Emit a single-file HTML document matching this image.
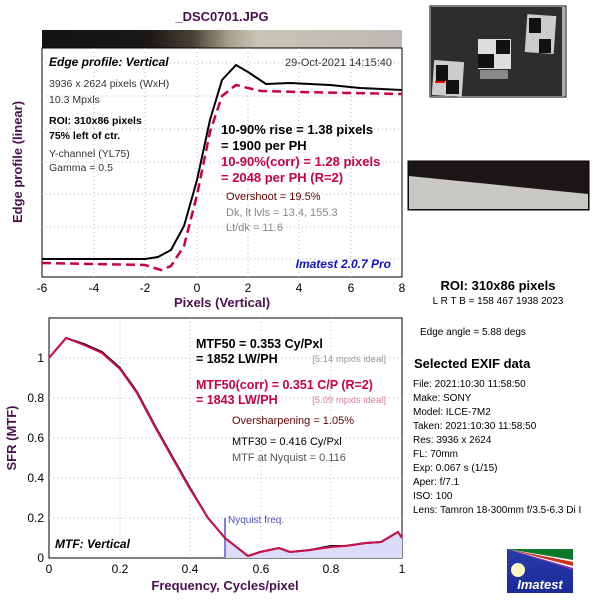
<!DOCTYPE html>
<html><head><meta charset="utf-8"><style>
html,body{margin:0;padding:0;background:#fff}
svg{display:block;font-family:"Liberation Sans",sans-serif}
</style></head><body>
<svg width="600" height="600" viewBox="0 0 600 600" xmlns="http://www.w3.org/2000/svg">
<defs>
<linearGradient id="g" x1="0" x2="1">
<stop offset="0" stop-color="#151312"/><stop offset="0.3" stop-color="#1a1816"/>
<stop offset="0.42" stop-color="#4a4236"/><stop offset="0.52" stop-color="#a8a08c"/>
<stop offset="0.6" stop-color="#c8c4b6"/><stop offset="1" stop-color="#bcbab4"/>
</linearGradient>
<linearGradient id="lb" x1="0" x2="0" y1="0" y2="1">
<stop offset="0" stop-color="#2a3aa8"/><stop offset="1" stop-color="#1a2a98"/>
</linearGradient>
</defs>
<text x="222" y="21" font-size="13" font-weight="bold" fill="#4a1050" text-anchor="middle">_DSC0701.JPG</text>
<rect x="42" y="30" width="360" height="18" fill="url(#g)"/>
<!-- top plot -->
<rect x="42" y="48" width="360" height="229" fill="#fff" stroke="#000"/>
<g stroke="#bbb" stroke-dasharray="1,3">
<line x1="94" y1="48" x2="94" y2="277"/><line x1="145" y1="48" x2="145" y2="277"/><line x1="197" y1="48" x2="197" y2="277"/><line x1="248" y1="48" x2="248" y2="277"/><line x1="299" y1="48" x2="299" y2="277"/><line x1="351" y1="48" x2="351" y2="277"/>
<line x1="42" y1="63" x2="402" y2="63"/><line x1="42" y1="96" x2="402" y2="96"/><line x1="42" y1="129" x2="402" y2="129"/><line x1="42" y1="162" x2="402" y2="162"/><line x1="42" y1="194" x2="402" y2="194"/><line x1="42" y1="227" x2="402" y2="227"/><line x1="42" y1="259" x2="402" y2="259"/>
</g>
<polyline fill="none" stroke="#c8004a" stroke-width="2.5" stroke-dasharray="9,5" points="42,263 145,265 161,270 171,266 184,246 197,195 210,132 222,96 236,85 248,88 261,91 299,92 402,94"/>
<polyline fill="none" stroke="#000" stroke-width="2" points="42,259 145,259 158,257 171,250 184,226 197,180 210,120 222,80 236,65 248,72 266,84 290,83 330,85 360,88 402,90"/>
<g font-size="12" text-anchor="middle">
<text x="42" y="292">-6</text><text x="94" y="292">-4</text><text x="145" y="292">-2</text><text x="197" y="292">0</text><text x="248" y="292">2</text><text x="299" y="292">4</text><text x="351" y="292">6</text><text x="402" y="292">8</text>
</g>
<text x="222" y="307" font-size="13" font-weight="bold" fill="#4a1050" text-anchor="middle">Pixels (Vertical)</text>
<text transform="translate(22,162) rotate(-90)" font-size="13" font-weight="bold" fill="#4a1050" text-anchor="middle">Edge profile (linear)</text>
<text x="49" y="66" font-size="12" font-weight="bold" font-style="italic">Edge profile: Vertical</text>
<text x="392" y="66" font-size="11" fill="#333" text-anchor="end">29-Oct-2021 14:15:40</text>
<g font-size="10.5" fill="#333">
<text x="49" y="87">3936 x 2624 pixels (WxH)</text><text x="49" y="103">10.3 Mpxls</text>
<text x="49" y="124" font-weight="bold" fill="#000">ROI: 310x86 pixels</text>
<text x="49" y="139" font-weight="bold" fill="#000">75% left of ctr.</text>
<text x="49" y="157">Y-channel  (YL75)</text><text x="49" y="171">Gamma = 0.5</text>
</g>
<g font-size="13" font-weight="bold">
<text x="221" y="134">10-90% rise = 1.38 pixels</text><text x="221" y="150">= 1900 per PH</text>
<text x="221" y="166" fill="#c8004a">10-90%(corr) = 1.28 pixels</text><text x="221" y="182" fill="#c8004a">= 2048 per PH  (R=2)</text>
</g>
<text x="226" y="200" font-size="11" fill="#600">Overshoot = 19.5%</text>
<text x="226" y="216" font-size="11" fill="#888">Dk, lt lvls = 13.4, 155.3</text>
<text x="226" y="231" font-size="11" fill="#888">Lt/dk = 11.6</text>
<text x="391" y="268" font-size="12" font-weight="bold" font-style="italic" fill="#1010d0" text-anchor="end">Imatest 2.0.7 Pro</text>
<!-- bottom plot -->
<rect x="49" y="318" width="353" height="240" fill="#fff" stroke="#000"/>
<g stroke="#bbb" stroke-dasharray="1,3">
<line x1="120" y1="318" x2="120" y2="558"/><line x1="190" y1="318" x2="190" y2="558"/><line x1="261" y1="318" x2="261" y2="558"/><line x1="331" y1="318" x2="331" y2="558"/>
<line x1="49" y1="358" x2="402" y2="358"/><line x1="49" y1="398" x2="402" y2="398"/><line x1="49" y1="438" x2="402" y2="438"/><line x1="49" y1="478" x2="402" y2="478"/><line x1="49" y1="518" x2="402" y2="518"/>
</g>
<polygon fill="#dcdcf8" points="225,538 248,556 260,552 279,548 290,552 310,550 331,546 345,546 366,543 381,542 398,532 402,538 402,558 225,558"/>
<line x1="225" y1="518" x2="225" y2="558" stroke="#8080e0" stroke-width="2"/>
<text x="228" y="523" font-size="10" fill="#5050c0">Nyquist freq.</text>
<polyline fill="none" stroke="#000" stroke-width="2" points="49,358 66,338 84,344 102,352 120,368 137,392 155,426 173,458 190,488 208,518 225,538 248,556 260,552 279,548 290,552 310,550 331,546 345,546 366,543 381,542 398,532 402,538"/>
<polyline fill="none" stroke="#d01050" stroke-width="2" points="49,358 66,338 84,345 102,353 120,369 137,393 155,427 173,459 190,489 208,518 225,538 248,556 260,552 279,548 290,552 310,550 331,547 345,546 366,543 381,542 398,532 402,538"/>
<g font-size="12" text-anchor="middle">
<text x="49" y="573">0</text><text x="120" y="573">0.2</text><text x="190" y="573">0.4</text><text x="261" y="573">0.6</text><text x="331" y="573">0.8</text><text x="402" y="573">1</text>
</g>
<g font-size="12" text-anchor="end">
<text x="44" y="562">0</text><text x="44" y="522">0.2</text><text x="44" y="482">0.4</text><text x="44" y="442">0.6</text><text x="44" y="402">0.8</text><text x="44" y="362">1</text>
</g>
<text x="225" y="590" font-size="13" font-weight="bold" fill="#4a1050" text-anchor="middle">Frequency, Cycles/pixel</text>
<text transform="translate(16,438) rotate(-90)" font-size="13" font-weight="bold" fill="#4a1050" text-anchor="middle">SFR (MTF)</text>
<text x="55" y="548" font-size="12" font-weight="bold" font-style="italic">MTF: Vertical</text>
<g font-size="12.5" font-weight="bold">
<text x="196" y="348">MTF50 = 0.353 Cy/Pxl</text><text x="196" y="363">= 1852 LW/PH</text>
<text x="196" y="389" fill="#c8004a">MTF50(corr) = 0.351 C/P  (R=2)</text><text x="196" y="404" fill="#c8004a">= 1843 LW/PH</text>
</g>
<text x="386" y="362" font-size="9.5" fill="#999" text-anchor="end">[5.14 mpxls ideal]</text>
<text x="386" y="403" font-size="9.5" fill="#e08098" text-anchor="end">[5.09 mpxls ideal]</text>
<text x="232" y="424" font-size="11" fill="#600">Oversharpening = 1.05%</text>
<text x="232" y="445" font-size="11">MTF30 = 0.416 Cy/Pxl</text>
<text x="232" y="461" font-size="11" fill="#555">MTF at Nyquist = 0.116</text>
<!-- right side thumbnail -->
<rect x="430" y="6" width="136" height="91" fill="#fff" stroke="#000"/>
<rect x="431" y="7" width="134" height="89" fill="#2e2c2c"/>
<rect x="562" y="7" width="3" height="89" fill="#aaa"/>
<rect x="526" y="15" width="29" height="38" fill="#ccc" transform="rotate(4 540 34)"/>
<rect x="529" y="18" width="12" height="15" fill="#111"/><rect x="539" y="39" width="12" height="14" fill="#111"/>
<rect x="478" y="39" width="33" height="30" fill="#ddd"/>
<rect x="496" y="40" width="14" height="14" fill="#111"/><rect x="478" y="54" width="16" height="14" fill="#111"/>
<rect x="480" y="70" width="28" height="9" fill="#888"/>
<rect x="433" y="61" width="30" height="35" fill="#ccc" transform="rotate(4 448 78)"/>
<rect x="436" y="65" width="12" height="16" fill="#111"/><rect x="446" y="80" width="13" height="14" fill="#111"/>
<rect x="435" y="81" width="10" height="2" fill="#f00"/>
<!-- ROI strip -->
<rect x="408" y="161" width="181" height="49" fill="#1a1716" stroke="#000"/>
<polygon points="409,176 588,194 588,209 409,209" fill="#c9c8c4"/>
<text x="498" y="290" font-size="13" font-weight="bold" text-anchor="middle">ROI: 310x86 pixels</text>
<text x="498" y="304" font-size="10" text-anchor="middle">L R  T B = 158 467  1938 2023</text>
<text x="420" y="335" font-size="10">Edge angle = 5.88 degs</text>
<text x="414" y="368" font-size="13" font-weight="bold">Selected EXIF data</text>
<g font-size="10">
<text x="413" y="387">File:  2021:10:30 11:58:50</text><text x="413" y="401">Make:  SONY</text>
<text x="413" y="415">Model:  ILCE-7M2</text><text x="413" y="429">Taken: 2021:10:30 11:58:50</text>
<text x="413" y="443">Res:   3936 x 2624</text><text x="413" y="457">FL:  70mm</text>
<text x="413" y="471">Exp:    0.067 s  (1/15)</text><text x="413" y="485">Aper:   f/7.1</text>
<text x="413" y="499">ISO:    100</text><text x="413" y="513">Lens:  Tamron 18-300mm f/3.5-6.3 Di I</text>
</g>
<!-- logo -->
<rect x="507" y="549" width="66" height="44" fill="url(#lb)"/>
<polygon points="507,549 573,549 573,560" fill="#0a7a2a"/>
<polygon points="507,549 573,560 573,562" fill="#fff"/>
<polygon points="507,549 573,562 573,566" fill="#d03010"/>
<polygon points="507,549 573,566 573,568" fill="#fff"/>
<polygon points="507,549 573,568 573,570" fill="#9030b0"/>
<ellipse cx="518" cy="570" rx="7" ry="7" fill="#fff8c0"/>
<text x="540" y="589" font-size="13" font-weight="bold" font-style="italic" fill="#fff" text-anchor="middle">Imatest</text>
</svg>
</body></html>
